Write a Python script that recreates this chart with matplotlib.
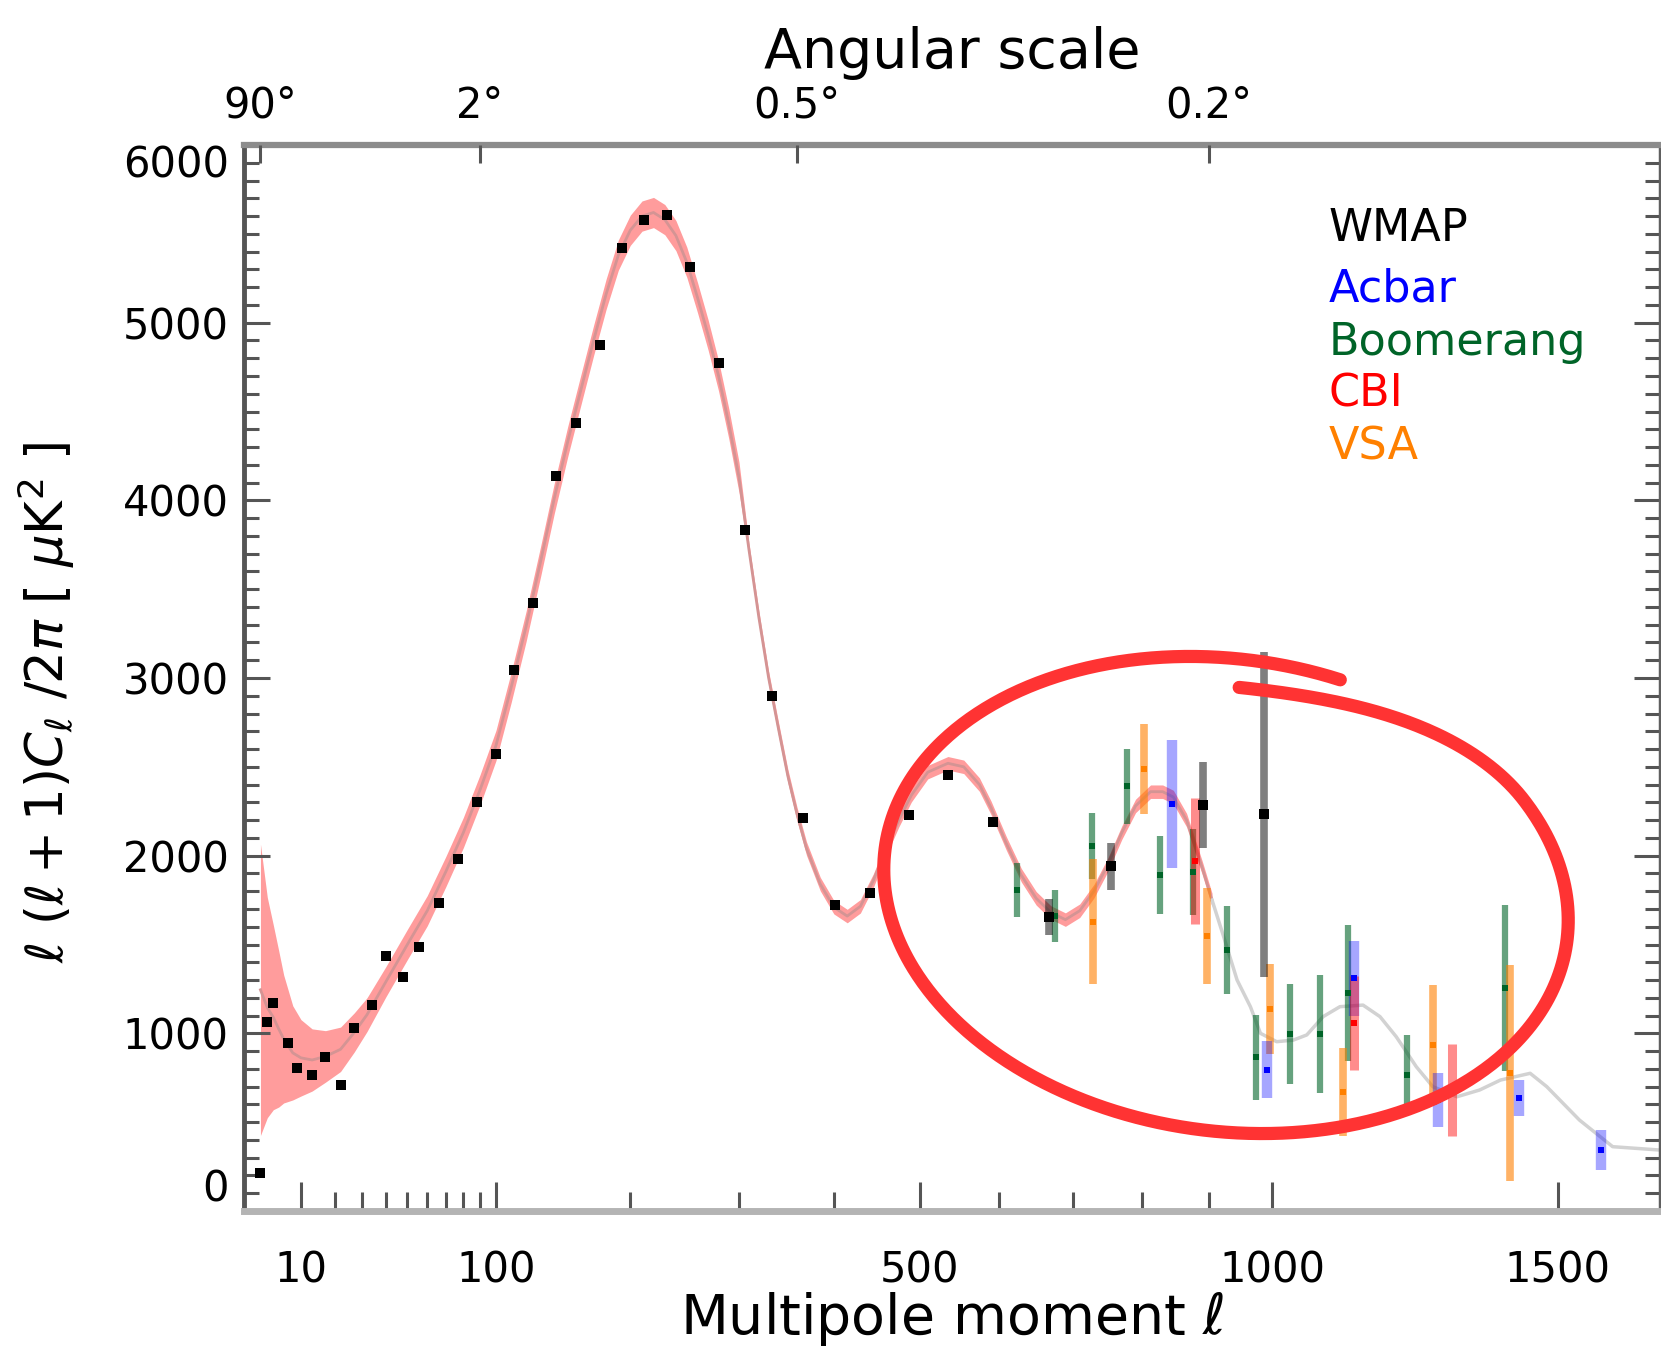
import numpy as np
import matplotlib
matplotlib.use('Agg')
import matplotlib.pyplot as plt

plt.rcParams['font.family'] = ['DejaVu Sans']

# best-fit model (pink curve)
model_l = [2, 3, 4, 5, 6, 8, 10, 13, 17, 22, 27, 32, 40, 50, 60, 70, 80, 90, 100, 110,
           120, 130, 140, 150, 160, 170, 180, 190, 200, 210, 220, 230, 240, 250, 260, 270,
           280, 290, 300, 310, 320, 330, 340, 350, 360, 370, 385, 400, 415, 430, 445, 460,
           475, 490, 510, 535, 555, 575, 590, 610, 630, 650, 670, 690, 710, 730, 750, 770,
           790, 812, 830, 846, 866, 890, 905]
model_cl = [1245, 1145, 1090, 1025, 968, 890, 862, 850, 870, 910, 1005, 1105, 1290, 1500,
            1690, 1910, 2130, 2370, 2620, 2950, 3290, 3650, 4010, 4330, 4620, 4900, 5160,
            5380, 5520, 5600, 5620, 5580, 5490, 5340, 5140, 4930, 4700, 4430, 4130, 3720,
            3340, 3000, 2720, 2450, 2230, 2040, 1840, 1710, 1660, 1715, 1860, 2040, 2200,
            2340, 2470, 2520, 2500, 2400, 2270, 2070, 1890, 1760, 1680, 1640, 1690, 1800,
            1950, 2130, 2280, 2360, 2360, 2330, 2200, 1930, 1750]
band_half = [820, 620, 520, 440, 360, 265, 215, 175, 145, 125, 110, 95] + [85] * 27 + [38] * 36

# grey continuation at high l
tail_l = [905, 923, 944, 965, 981, 1007, 1034, 1056, 1083, 1111, 1150, 1179, 1207, 1242,
          1271, 1314, 1355, 1393, 1448, 1479, 1541, 1581, 1605, 1698]
tail_cl = [1750, 1544, 1300, 1150, 1000, 953, 962, 991, 1094, 1150, 1159, 1094, 981, 812,
           700, 643, 681, 737, 775, 700, 512, 418, 362, 343]

# WMAP binned points
wmap_l = [2, 3, 4, 7, 9, 13, 17, 22, 27, 34, 40, 48, 56, 66, 77, 88, 100, 112, 125, 141,
          156, 175, 193, 212, 232, 253, 280, 306, 334, 366, 401, 441, 487, 535, 593, 667,
          754, 891, 987]
wmap_cl = [212, 1065, 1170, 944, 803, 765, 865, 709, 1029, 1160, 1435, 1315, 1486, 1731,
           1984, 2303, 2571, 3045, 3420, 4137, 4433, 4874, 5418, 5576, 5606, 5315, 4771,
           3833, 2899, 2210, 1722, 1788, 2229, 2454, 2191, 1656, 1940, 2285, 2234]
wmap_err = [0] * 35 + [100, 131, 243, 915]

boom_l = [624, 675, 727, 777, 826, 875, 928, 974, 1028, 1077, 1125, 1226, 1402]
boom_cl = [1807, 1660, 2054, 2392, 1891, 1908, 1469, 864, 996, 996, 1227, 765, 1255]
boom_err = [150, 147, 186, 211, 217, 241, 246, 237, 280, 332, 385, 225, 467]

vsa_l = [728, 802, 897, 997, 1117, 1271, 1411]
vsa_cl = [1627, 2488, 1548, 1137, 670, 934, 777]
vsa_err = [352, 253, 270, 252, 248, 338, 610]

acbar_l = [844, 991, 1134, 1281, 1428, 1582]
acbar_cl = [2291, 796, 1310, 625, 636, 343]
acbar_err = [358, 160, 211, 150, 100, 115]

cbi_l = [879, 1134, 1305]
cbi_cl = [1970, 1058, 681]
cbi_err = [352, 267, 260]


def fwd(x):
    return np.power(np.clip(x, 0, None), 0.6)


def inv(x):
    return np.power(np.clip(x, 0, None), 1 / 0.6)


fig = plt.figure(figsize=(16.61, 13.47), dpi=100)
ax = fig.add_axes([244 / 1661, 136 / 1347, 1416 / 1661, 1066 / 1347])
ax.set_xscale('function', functions=(fwd, inv))
ax.set_xlim(0.33, 1698)
ax.set_ylim(0, 6000)

mcl = np.array(model_cl)
bh = np.array(band_half)
ax.fill_between(model_l, mcl - bh, mcl + bh, color='#ff9c9c', lw=0, zorder=1)
ax.plot(model_l, model_cl, color='#d49494', lw=2, zorder=2)
ax.plot(tail_l, tail_cl, color='#d2d2d2', lw=2.5, zorder=2)

# error bars of the other experiments
for l, c, e, col, a, w in [(boom_l, boom_cl, boom_err, '#006428', 0.6, 4.5),
                           (vsa_l, vsa_cl, vsa_err, '#ff8000', 0.6, 5.5),
                           (acbar_l, acbar_cl, acbar_err, '#0000ff', 0.35, 7.5),
                           (cbi_l, cbi_cl, cbi_err, '#ff0000', 0.45, 6.5)]:
    c = np.array(c)
    e = np.array(e)
    ax.vlines(l, c - e, c + e, colors=col, alpha=a, lw=w, zorder=3)
    ax.plot(l, c, 's', color=col, ms=5, mew=0, zorder=4)

wc = np.array(wmap_cl)
we = np.array(wmap_err)
ax.vlines(wmap_l, wc - we, wc + we, colors='#000000', alpha=0.5, lw=5.5, zorder=3)
ax.plot(wmap_l, wmap_cl, 's', color='black', ms=6.5, mew=0, zorder=5)

# ticks and spines
ax.set_xticks([10, 100, 500, 1000, 1500])
ax.set_xticklabels(['10', '100', '500', '1000', '1500'])
ax.set_xticks([20, 30, 40, 50, 60, 70, 80, 90, 200, 300, 400, 600, 700, 800, 900], minor=True)
ax.set_yticks(np.arange(0, 6001, 1000))
ax.set_yticks(np.arange(0, 6001, 100), minor=True)
ax.tick_params(axis='x', which='major', direction='in', length=21, width=2.2,
               color='#555555', pad=28, labelsize=30, top=False)
ax.tick_params(axis='x', which='minor', direction='in', length=14, width=2.2,
               color='#555555', top=False)
ax.tick_params(axis='y', which='major', direction='in', length=19, width=2.2,
               color='#555555', pad=11, labelsize=30, right=True)
ax.tick_params(axis='y', which='minor', direction='in', length=11, width=2.2,
               color='#555555', right=True)
ylabels = ax.get_yticklabels()
ylabels[0].set_va('bottom')
ylabels[-1].set_va('top')

ax.spines['left'].set_color('#555555')
ax.spines['left'].set_linewidth(3.5)
ax.spines['bottom'].set_color('#b4b4b4')
ax.spines['bottom'].set_linewidth(5)
ax.spines['top'].set_color('#8c8c8c')
ax.spines['top'].set_linewidth(4.5)
ax.spines['right'].set_color('#606060')
ax.spines['right'].set_linewidth(2.5)

ax.set_xlabel(r'Multipole moment $\ell$', fontsize=40)
ax.xaxis.set_label_coords(0.5, -0.074)
ax.set_ylabel(r'$\ell\ (\ell+1)C_\ell\ /2\pi$ [ $\mu$K$^2$ ]', fontsize=37)
ax.yaxis.set_label_coords(-0.118, 0.477)

# angular scale on top
ax2 = ax.twiny()
ax2.set_xscale('function', functions=(fwd, inv))
ax2.set_xlim(ax.get_xlim())
ax2.set_xticks([2, 90, 360, 900])
ax2.set_xticklabels(['90°', '2°', '0.5°', '0.2°'])
ax2.xaxis.set_minor_locator(matplotlib.ticker.NullLocator())
ax2.tick_params(axis='x', which='major', direction='in', length=13, width=2.2,
                color='#555555', pad=13, labelsize=30)
for s in ax2.spines.values():
    s.set_visible(False)
ax2.set_xlabel('Angular scale', fontsize=40)
ax2.xaxis.set_label_coords(0.5, 1.072)

# legend as coloured words
for name, col, yy in [('WMAP', '#000000', 0.910), ('Acbar', '#0000ff', 0.853),
                      ('Boomerang', '#006428', 0.803), ('CBI', '#ff0000', 0.755),
                      ('VSA', '#ff8000', 0.705)]:
    ax.text(0.766, yy, name, color=col, fontsize=32,
            transform=ax.transAxes, va='baseline')

# hand drawn red loop around the high-l data
t = np.radians(np.linspace(-76, -453, 600))
t0, t1 = np.radians(-395), np.radians(-453)
frac = np.clip((t0 - t) / (t0 - t1), 0, 1)
sc = 1.0 - 0.12 * (1 - np.cos(np.pi * frac)) / 2
ex = 344 * sc * np.cos(t)
ey = 236 * sc * np.sin(t)
th = np.radians(8)
px = 1226 + ex * np.cos(th) - ey * np.sin(th)
py = 895 + ex * np.sin(th) + ey * np.cos(th)
ax.plot((px - 244) / 1416, (1211 - py) / 1066, transform=ax.transAxes, color='#ff3333',
        lw=9.5, solid_capstyle='round', clip_on=False, zorder=10)

fig.savefig('out.png', dpi=100)
